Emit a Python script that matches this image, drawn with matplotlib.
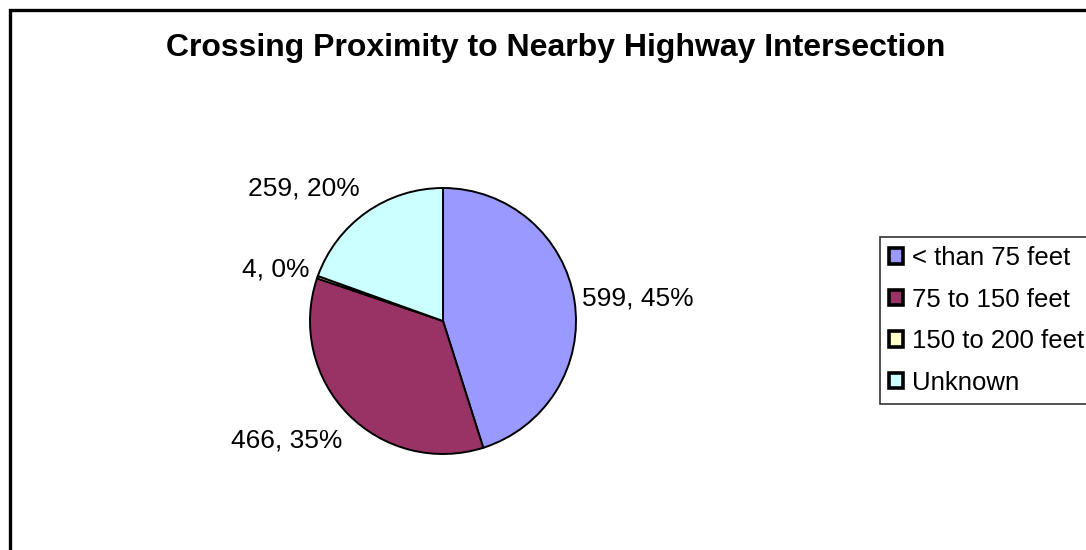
import matplotlib
matplotlib.use("Agg")
import matplotlib.pyplot as plt
from matplotlib.patches import Rectangle, Patch
import numpy as np

plt.rcParams['font.family'] = ['Liberation Sans', 'DejaVu Sans']

categories = ["< than 75 feet", "75 to 150 feet", "150 to 200 feet", "Unknown"]
values = [599, 466, 4, 259]
colors = ["#9999FF", "#993366", "#FFFFCC", "#CCFFFF"]
title = "Crossing Proximity to Nearby Highway Intersection"

W, H = 1086, 550
fig = plt.figure(figsize=(W / 100, H / 100), dpi=100)
fig.patch.set_facecolor("white")

# outer frame (extends beyond right/bottom)
fig.patches.append(Rectangle((10 / W, -0.1), 1.2, (H - 9.5) / H + 0.1, transform=fig.transFigure,
                             fill=False, edgecolor="black", linewidth=2.4))

fig.text(556 / W, 1 - 48 / H, title, ha="center", va="center", fontsize=23, fontweight="bold")

cx, cy, r = 443, 321, 133
ax = fig.add_axes([(cx - r) / W, (H - cy - r) / H, 2 * r / W, 2 * r / H])
wedges, _ = ax.pie(values, colors=colors, startangle=90, counterclock=False,
                   wedgeprops=dict(edgecolor="black", linewidth=1.4))
ax.set_xlim(-1, 1)
ax.set_ylim(-1, 1)
ax.set_aspect("equal")

total = sum(values)
# label placement (pixel offsets from the wedge's outer edge midpoint)
offsets = [(7.5, -4.5), (-6, -33), (-7.5, 1), (-6.5, 17)]
has = ["left", "right", "right", "right"]
for w, v, off, ha in zip(wedges, values, offsets, has):
    ang = np.deg2rad((w.theta1 + w.theta2) / 2)
    ax.annotate(f"{v}, {round(100 * v / total):.0f}%", xy=(np.cos(ang), np.sin(ang)),
                xytext=off, textcoords="offset pixels", ha=ha, va="baseline",
                fontsize=19, annotation_clip=False)

handles = [Patch(facecolor=c, edgecolor="black", linewidth=2.6) for c in colors]
leg = fig.legend(handles, categories, loc="upper left", bbox_to_anchor=(880 / W, 1 - 237 / H),
                 fontsize=18.5, frameon=True, fancybox=False, edgecolor="black",
                 handlelength=0.55, handleheight=0.55, handletextpad=0.35,
                 labelspacing=0.68, borderpad=0.36, borderaxespad=0)
leg.get_frame().set_linewidth(1.2)

fig.savefig("out.png", dpi=100)
